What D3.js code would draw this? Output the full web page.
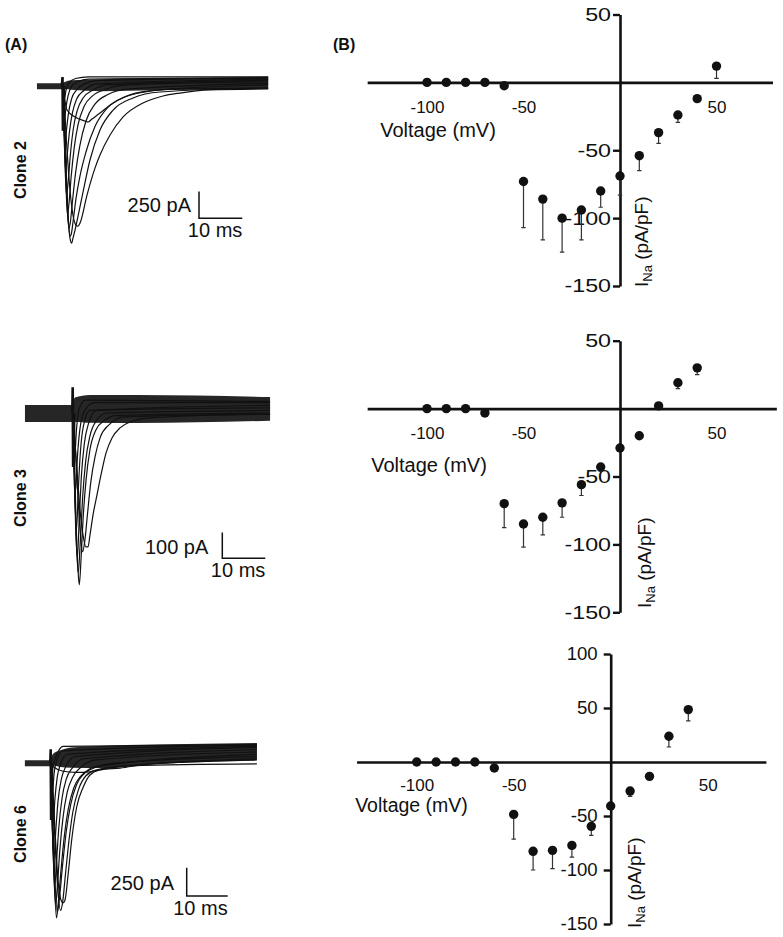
<!DOCTYPE html>
<html><head><meta charset="utf-8">
<script src="https://cdn.jsdelivr.net/npm/d3@7"></script>
<style>
body{margin:0;background:#fff;}
svg{display:block;}
text{font-family:"Liberation Sans",Arial,sans-serif;fill:#111;}
</style></head><body>
<svg id="chart" width="783" height="937"></svg>
<script>
// ---------------- DATA ----------------
// Panel B: I-V relations (voltage in mV, current density in pA/pF, error = SEM drawn downward)
const ivVoltClone2 = [-100,-90,-80,-70,-60,-50,-40,-30,-20,-10,0,10,20,30,40,50];
const ivMeanClone2 = [0,0,0,0,-2.5,-73,-86,-100,-94,-80,-69,-54,-37,-24,-12,12];
const ivErrClone2  = [0,0,0,0,0,34,30,25,22,12,14,11,8,5.5,2,9];

const ivVoltClone3 = [-100,-90,-80,-70,-60,-50,-40,-30,-20,-10,0,10,20,30,40];
const ivMeanClone3 = [0,0,0,-3.2,-70,-85,-80,-69.4,-56,-43,-29,-20,2,19,30];
const ivErrClone3  = [0,0,0,0,17.6,17,13,10.6,8,3,1,1,0,4.3,5];

const ivVoltClone6 = [-100,-90,-80,-70,-60,-50,-40,-30,-20,-10,0,10,20,30,40];
const ivMeanClone6 = [0,0,0,0,-5.6,-48.5,-82.7,-81.8,-77.2,-59.6,-40.7,-26.9,-13.3,23.8,48.5];
const ivErrClone6  = [0,0,0,0,0,23,17.3,17,10.8,8.4,1,5,2,9.9,10.5];

const xTickValues = [-100,-50,50];
const yTicksClone2 = [50,-50,-100,-150];
const yTicksClone3 = [50,-50,-100,-150];
const yTicksClone6 = [100,50,-50,-100,-150];
const yDomainClone2 = [50,-150];
const yDomainClone3 = [50,-150];
const yDomainClone6 = [100,-150];
const xDomainClone2 = [-131,79];
const xDomainClone3 = [-131,81];
const xDomainClone6 = [-131,80];

// Panel A: current traces, points [time ms after step, current pA]
const traceClone2 = [
 [[0,0],[0.35,-84],[1.04,-225],[2.9,-290],[5.2,-328],[5.9,-337],[6.8,-309],[8.66,-253],[11,-178],[14.4,-103],[19.1,-56],[27.1,-28],[47.5,-19]],
 [[0,0],[0.35,-131],[1.04,-600],[1.73,-974],[2.42,-1209],[3.1,-1302],[3.58,-1312],[4.04,-1284],[5.66,-1021],[7.5,-769],[8.66,-646],[10.98,-459],[14,-290],[18.6,-159],[23.2,-94],[27.1,-66],[34,-37],[47.5,-28]],
 [[0,0],[0.35,-225],[0.81,-787],[1.27,-1209],[1.73,-1424],[2.12,-1471],[2.42,-1424],[2.89,-1349],[4.5,-1040],[6.35,-693],[8.66,-412],[11.7,-225],[16.3,-112],[22.5,-56],[47.5,-19]],
 [[0,0],[0.35,-200],[0.81,-750],[1.27,-1200],[1.73,-1405],[2.0,-1390],[2.5,-1250],[3.1,-1060],[4.0,-850],[5.4,-620],[7.5,-380],[10.5,-200],[14.4,-100],[20,-45],[47.5,10]],
 [[0,0],[0.3,-180],[0.7,-700],[1.1,-1150],[1.5,-1330],[1.8,-1280],[2.3,-1080],[3.0,-820],[4.0,-560],[5.4,-330],[7.5,-170],[10.5,-80],[15,-30],[47.5,25]],
 [[0,0],[0.3,-250],[0.7,-800],[1.15,-1210],[1.5,-1100],[2.0,-850],[2.7,-580],[3.6,-360],[5.0,-190],[7.0,-90],[10,-30],[15,10],[47.5,40]],
 [[0,0],[0.3,-300],[0.6,-750],[0.92,-1020],[1.3,-900],[1.8,-650],[2.5,-400],[3.4,-230],[4.8,-110],[7,-40],[10,10],[47.5,55]],
 [[0,0],[0.3,-350],[0.7,-790],[1.1,-640],[1.6,-430],[2.3,-250],[3.3,-120],[5,-40],[8,20],[47.5,65]],
 [[0,0],[0.3,-300],[0.58,-550],[0.9,-420],[1.4,-250],[2.1,-120],[3.2,-40],[5,20],[8,50],[47.5,75]],
 [[0,0],[0.25,-200],[0.46,-320],[0.8,-200],[1.3,-90],[2,-10],[3.5,40],[6,65],[47.5,80]],
 [[0,0],[0.2,-80],[0.4,-130],[0.8,-40],[1.5,30],[3,70],[6,85],[47.5,85]]
];
const bandClone2 = [[-5.9,26,-30],[-0.1,26,-30],[0.5,38,-28],[2,54,-36],[9,64,-50],[15,70,-45],[47.5,74,-26]];
const artifactClone2 = [[-0.15,0],[0,84],[0.1,-420],[0.25,-300],[0.35,0]];

const traceClone3 = [
 [[0,0],[0.3,-66],[1.0,-222],[1.7,-377],[2.4,-475],[3.09,-521],[3.56,-521],[4.02,-475],[4.72,-397],[5.65,-319],[6.58,-241],[7.74,-156],[9.14,-97],[11,-58],[13.3,-35],[18,-19],[45.9,-4]],
 [[0,0],[0.3,-50],[1.0,-260],[1.7,-450],[2.3,-540],[2.8,-500],[3.4,-400],[4.2,-270],[5.2,-170],[6.4,-95],[8.5,-45],[12,-15],[45.9,-5]],
 [[0,0],[0.3,-105],[0.77,-416],[1.23,-611],[1.53,-669],[1.93,-572],[2.4,-416],[3.1,-261],[4.0,-144],[5.4,-66],[7.5,-27],[10,-10],[45.9,0]],
 [[0,0],[0.3,-150],[0.8,-480],[1.3,-620],[1.7,-520],[2.3,-330],[3.0,-190],[4.0,-90],[5.5,-30],[8,0],[45.9,10]],
 [[0,0],[0.3,-200],[0.7,-450],[1.1,-560],[1.5,-420],[2.0,-250],[2.7,-120],[3.7,-40],[5.5,10],[45.9,20]],
 [[0,0],[0.3,-220],[0.9,-450],[1.3,-300],[1.8,-150],[2.5,-50],[4,10],[45.9,30]],
 [[0,0],[0.3,-180],[0.7,-300],[1.1,-170],[1.7,-60],[2.8,10],[5,40],[45.9,40]],
 [[0,0],[0.25,-100],[0.5,-160],[0.9,-60],[1.6,20],[3,50],[45.9,45]]
];
const bandClone3 = [[-11.1,31,-35],[-0.1,31,-35],[0.5,60,-35],[4,70,-38],[15,70,-39],[45.9,62,-30]];
const artifactClone3 = [[-0.1,0],[0,100],[0.1,-210],[0.25,-150],[0.35,0]];

const traceClone6 = [
 [[0,0],[1,-40],[3,-70],[6,-80],[9.5,-75],[13,-50],[20,-20],[50.3,-5]],
 [[0,0],[0.32,-103],[1.05,-589],[1.78,-1030],[2.51,-1207],[3.0,-1233],[3.49,-1207],[4.29,-968],[5.12,-677],[6.34,-386],[7.95,-209],[9.59,-103],[12,-59],[16.9,-42],[24.2,-6],[50.3,29]],
 [[0,0],[0.3,-120],[1.0,-650],[1.7,-1100],[2.4,-1300],[2.9,-1230],[3.6,-980],[4.4,-700],[5.4,-430],[6.8,-230],[8.6,-110],[11,-60],[16,-30],[50.3,40]],
 [[0,0],[0.3,-300],[0.8,-950],[1.41,-1366],[1.8,-1250],[2.5,-950],[3.3,-650],[4.3,-400],[5.6,-220],[7.4,-110],[10,-50],[15,0],[50.3,60]],
 [[0,0],[0.3,-250],[0.9,-900],[1.6,-1320],[2.1,-1200],[2.9,-900],[3.8,-600],[4.9,-360],[6.3,-190],[8.2,-90],[11,-30],[50.3,80]],
 [[0,0],[0.3,-400],[0.8,-1000],[1.2,-1250],[1.6,-1100],[2.2,-780],[3.0,-480],[4.0,-260],[5.4,-120],[7.5,-30],[11,30],[50.3,100]],
 [[0,0],[0.3,-450],[1.0,-1080],[1.4,-880],[2.0,-560],[2.8,-300],[3.8,-140],[5.3,-40],[8,40],[50.3,120]],
 [[0,0],[0.3,-450],[0.8,-850],[1.2,-620],[1.8,-330],[2.6,-140],[3.8,-20],[6,60],[50.3,140]],
 [[0,0],[0.3,-350],[0.6,-550],[1.0,-330],[1.6,-120],[2.5,0],[4,80],[50.3,150]],
 [[0,0],[0.2,-150],[0.45,-250],[0.8,-100],[1.5,30],[3,110],[50.3,160]],
 [[0,0],[0.3,-60],[0.7,0],[1.5,80],[3,150],[50.3,165]]
];
const bandClone6 = [[-6.3,26,-26],[-0.1,26,-26],[0.5,80,-20],[2,110,-30],[5,140,-40],[12,153,-42],[25,165,-10],[50.3,179,29]];
const artifactClone6 = [[-0.1,0],[0,124],[0.1,-500],[0.25,-350],[0.35,0]];

const cloneNames = ["Clone 2","Clone 3","Clone 6"];
const scaleBarPA = [250,100,250];
const scaleBarMS = [10,10,10];

// ---------------- LAYOUT ----------------
const svg = d3.select("#chart");
const ink = "#111";

function drawTraces(c){
  const g = svg.append("g");
  const x = d3.scaleLinear().domain([0, c.barMs]).range([c.x0, c.x0 + c.msPx]);
  const y = d3.scaleLinear().domain([0, -c.barPA]).range([c.y0, c.y0 + c.paPx]);
  const area = d3.area().x(d=>x(d[0])).y0(d=>y(d[2])).y1(d=>y(d[1])).curve(d3.curveMonotoneX);
  g.append("path").attr("d", area(c.band)).attr("fill", "#161616").attr("fill-opacity",0.93);
  const line = d3.line().x(d=>x(d[0])).y(d=>y(d[1])).curve(d3.curveMonotoneX);
  g.selectAll("path.tr").data(c.traces).join("path").attr("class","tr")
    .attr("d", line).attr("fill","none").attr("stroke", ink).attr("stroke-width",1.2);
  g.append("path").attr("d", d3.line().x(d=>x(d[0])).y(d=>y(d[1]))(c.artifact))
    .attr("fill","none").attr("stroke", ink).attr("stroke-width",2.6);
  // scale bar
  const vLen = y(-c.barPA) - y(0), hLen = x(c.barMs) - x(0);
  const cx = c.bar[0], cy = c.bar[1];
  g.append("path").attr("d", `M${cx},${cy - vLen}V${cy}H${cx + hLen}`)
    .attr("fill","none").attr("stroke", ink).attr("stroke-width",1.5);
  g.append("text").attr("x", cx + c.paText[0]).attr("y", cy + c.paText[1])
    .attr("text-anchor","end").attr("font-size",20).text(`${c.barPA} pA`);
  g.append("text").attr("x", cx + hLen).attr("y", cy + 19)
    .attr("text-anchor","end").attr("font-size",20).text(`${c.barMs} ms`);
  g.append("text").attr("transform", `translate(${c.label[0]},${c.label[1]}) rotate(-90)`)
    .attr("text-anchor","middle").attr("font-size",16).attr("font-weight","bold").text(c.name);
}

drawTraces({name:cloneNames[0], traces:traceClone2, band:bandClone2, artifact:artifactClone2,
  barMs:scaleBarMS[0], barPA:scaleBarPA[0], x0:62.5, y0:86, msPx:43.3, paPx:26.7,
  bar:[199,218.3], paText:[-8,-6], label:[26,170]});
drawTraces({name:cloneNames[1], traces:traceClone3, band:bandClone3, artifact:artifactClone3,
  barMs:scaleBarMS[1], barPA:scaleBarPA[1], x0:72.7, y0:413, msPx:43, paPx:25.7,
  bar:[222.3,558.3], paText:[-14,-4.6], label:[26,498]});
drawTraces({name:cloneNames[2], traces:traceClone6, band:bandClone6, artifact:artifactClone6,
  barMs:scaleBarMS[2], barPA:scaleBarPA[2], x0:50.7, y0:763.3, msPx:41, paPx:28.3,
  bar:[186.7,896], paText:[-12.7,-6], label:[26,834]});

svg.append("text").attr("x",5).attr("y",50).attr("font-size",16).attr("font-weight","bold").text("(A)");
svg.append("text").attr("x",333).attr("y",50).attr("font-size",16).attr("font-weight","bold").text("(B)");

function drawIV(c){
  const g = svg.append("g");
  const x = d3.scaleLinear().domain(c.xDomain).range(c.xRange);
  const y = d3.scaleLinear().domain(c.yDomain).range(c.yRange);
  // x axis
  const xa = g.append("g").attr("transform", `translate(0,${y(0)})`)
    .call(d3.axisBottom(x).tickValues(xTickValues).tickSize(0).tickSizeOuter(0).tickPadding(c.xPad).tickFormat(d=>String(d)));
  xa.select(".domain").attr("stroke", ink).attr("stroke-width",2.6);
  xa.selectAll("text").attr("font-size",17).attr("fill", ink).attr("font-family","Liberation Sans, Arial, sans-serif");
  // y axis
  const ya = g.append("g").attr("transform", `translate(${x(0)},0)`)
    .call(d3.axisLeft(y).tickValues(c.yTicks).tickSize(7).tickSizeOuter(0).tickPadding(c.yPad).tickFormat(d=>String(d)));
  ya.select(".domain").attr("stroke", ink).attr("stroke-width",2.6);
  ya.selectAll(".tick line").attr("stroke", ink).attr("stroke-width",2.4);
  ya.selectAll("text").attr("font-size",18.6).attr("fill", ink).attr("font-family","Liberation Sans, Arial, sans-serif")
    .attr("x", -(7 + c.yPad) / c.stretch).attr("transform", `scale(${c.stretch},1)`);
  // error bars (downward)
  const pts = c.volts.map((v,i)=>({v, m:c.mean[i], e:c.err[i]}));
  g.selectAll("path.err").data(pts.filter(d=>d.e>0)).join("path").attr("class","err")
    .attr("d", d=>`M${x(d.v)},${y(d.m)}V${y(d.m - d.e)}M${x(d.v)-2.2},${y(d.m - d.e)}H${x(d.v)+2.2}`)
    .attr("stroke","#333").attr("stroke-width",1.2).attr("fill","none");
  g.selectAll("circle").data(pts).join("circle")
    .attr("cx", d=>x(d.v)).attr("cy", d=>y(d.m)).attr("r",4.7).attr("fill", ink);
  // labels
  g.append("text").attr("x", c.volt[0]).attr("y", c.volt[1]).attr("text-anchor","middle")
    .attr("font-size",c.voltSize).text("Voltage (mV)");
  const yl = g.append("text").attr("transform", `translate(${c.ylab[0]},${c.ylab[1]}) rotate(-90)`)
    .attr("font-size",19);
  yl.append("tspan").text("I");
  yl.append("tspan").attr("font-size",13).attr("dy",4).text("Na");
  yl.append("tspan").attr("dy",-4).text(" (pA/pF)");
}

drawIV({volts:ivVoltClone2, mean:ivMeanClone2, err:ivErrClone2, xDomain:xDomainClone2,
  xRange:[620-131*1.93, 620+79*1.93], yDomain:yDomainClone2, yRange:[14.5,286], yTicks:yTicksClone2,
  yPad:2, stretch:1.25, xPad:18.5, volt:[438,137], voltSize:20, ylab:[648,287]});
drawIV({volts:ivVoltClone3, mean:ivMeanClone3, err:ivErrClone3, xDomain:xDomainClone3,
  xRange:[620-131*1.93, 620+81*1.93], yDomain:yDomainClone3, yRange:[340.7,612.3], yTicks:yTicksClone3,
  yPad:2, stretch:1.25, xPad:18.5, volt:[429,472], voltSize:20, ylab:[651,608]});
drawIV({volts:ivVoltClone6, mean:ivMeanClone6, err:ivErrClone6, xDomain:xDomainClone6,
  xRange:[610.7-131*1.94, 610.7+80*1.94], yDomain:yDomainClone6, yRange:[654,924], yTicks:yTicksClone6,
  yPad:6, stretch:1, xPad:17, volt:[411.5,812], voltSize:19.5, ylab:[641,928]});
</script>
</body></html>
